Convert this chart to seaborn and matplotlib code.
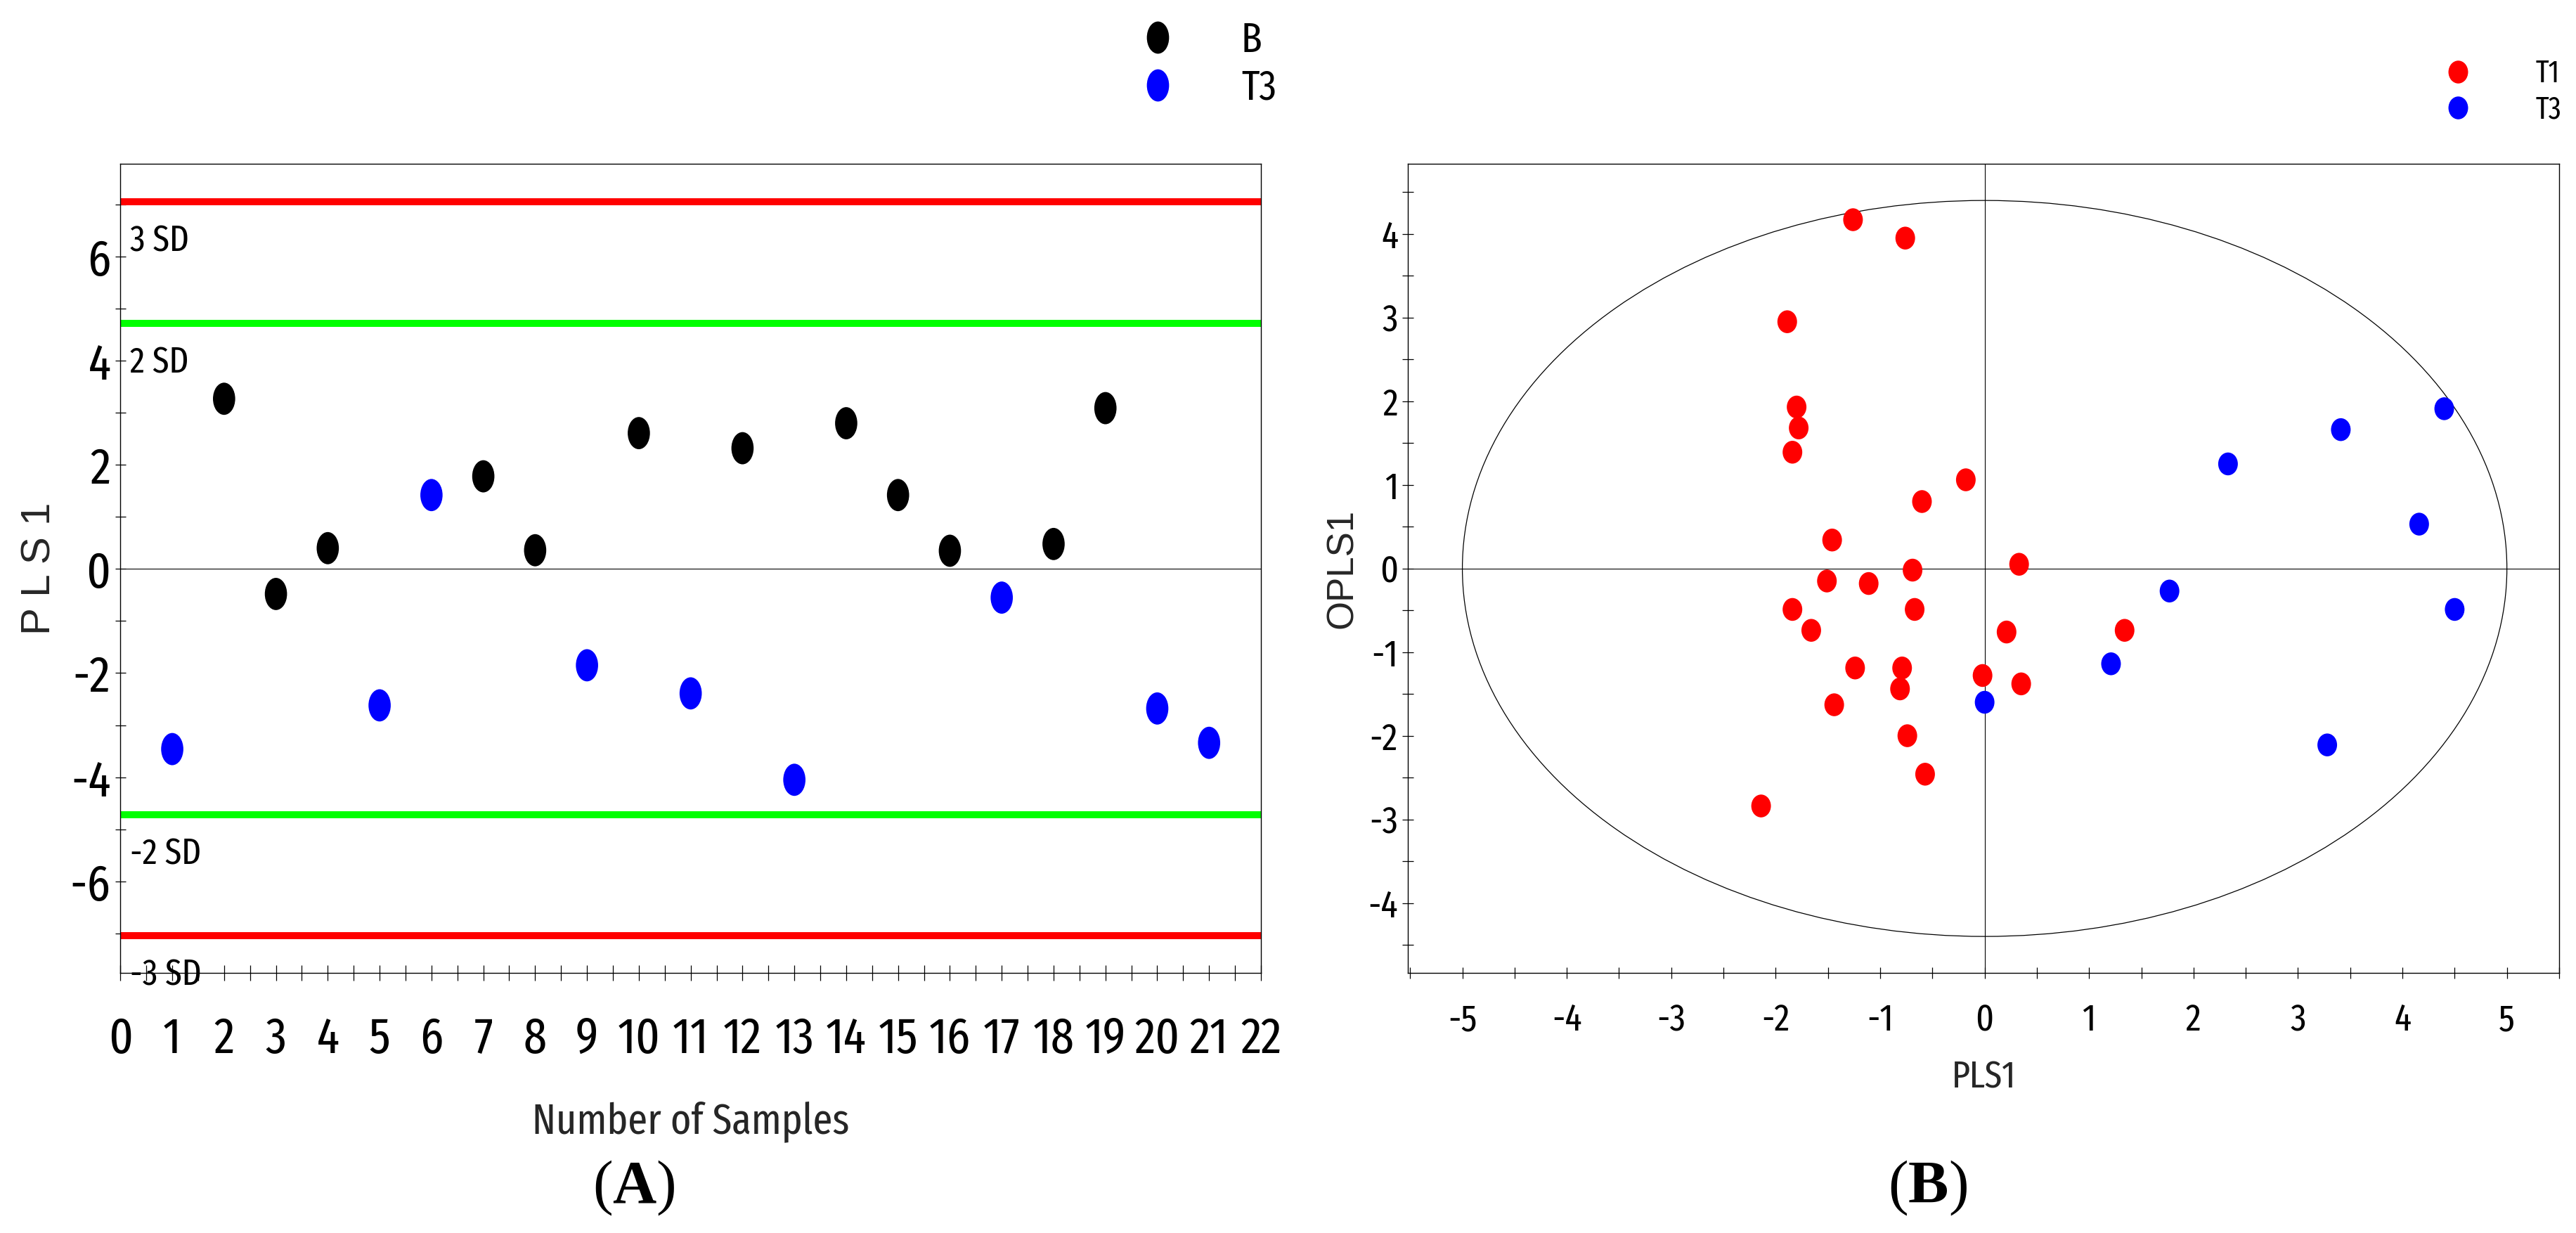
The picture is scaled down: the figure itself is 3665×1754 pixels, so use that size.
import matplotlib
matplotlib.use("Agg")
import numpy as np
import pandas as pd
import matplotlib.pyplot as plt
from matplotlib.path import Path
from matplotlib.markers import MarkerStyle
from matplotlib.transforms import Affine2D
from matplotlib.patches import Ellipse
from matplotlib.lines import Line2D
from matplotlib.ticker import MultipleLocator
import seaborn as sns

# ---------------- Panel A data (PLS score plot by sample number) ----------------
sample_no = list(range(1, 22))
pls1_scores = [-3.46, 3.27, -0.48, 0.40, -2.62, 1.42, 1.78, 0.36, -1.85, 2.61,
               -2.39, 2.32, -4.05, 2.80, 1.42, 0.35, -0.55, 0.48, 3.09, -2.68, -3.34]
sample_group = ["T3", "B", "B", "B", "T3", "T3", "B", "B", "T3", "B",
                "T3", "B", "T3", "B", "B", "B", "T3", "B", "B", "T3", "T3"]
sd_levels = [7.05, 4.72, -4.72, -7.05]
sd_labels = ["3 SD", "2 SD", "-2 SD", "-3 SD"]
groups_a = ["B", "T3"]

# ---------------- Panel B data (OPLS score plot) ----------------
t1_pls1 = [-1.26, -0.76, -1.89, -1.80, -1.78, -1.84, -0.18, -0.60, -1.46, 0.33,
           -0.69, -1.51, -1.11, -1.84, -0.67, -1.66, 0.21, 1.34, -1.24, -0.79,
           -0.02, 0.35, -0.81, -1.44, -0.74, -0.57, -2.14]
t1_opls1 = [4.17, 3.95, 2.95, 1.93, 1.68, 1.39, 1.06, 0.80, 0.34, 0.05,
            -0.02, -0.15, -0.18, -0.49, -0.49, -0.74, -0.76, -0.74, -1.19, -1.19,
            -1.28, -1.38, -1.44, -1.63, -2.00, -2.46, -2.84]
t3_pls1 = [4.40, 3.41, 2.33, 4.16, 1.77, 4.50, 1.21, 0.00, 3.28]
t3_opls1 = [1.91, 1.66, 1.25, 0.53, -0.27, -0.49, -1.14, -1.60, -2.11]
groups_b = ["T1", "T3"]
t2_radius_x = 5.0
t2_radius_y = 4.4

# ---------------- Style ----------------
NARROW = ["Fira Sans Extra Condensed", "Roboto Condensed", "Liberation Sans Narrow",
          "Liberation Sans", "DejaVu Sans"]
REGULAR = ["Liberation Sans", "DejaVu Sans"]
SERIF = ["Liberation Serif", "DejaVu Serif"]

sns.set_theme(style="white")
plt.rcParams.update({
    "font.family": NARROW,
    "axes.unicode_minus": False,
    "mathtext.fontset": "custom",
    "mathtext.rm": "Liberation Serif",
    "mathtext.bf": "Liberation Serif:bold",
    "axes.edgecolor": "black",
    "axes.linewidth": 1.0,
    "xtick.color": "black",
    "ytick.color": "black",
    "text.color": "black",
})

W, H = 3666, 1754
fig = plt.figure(figsize=(W / 100, H / 100), dpi=100)
fig.patch.set_facecolor("white")


def fx(px):
    return px / W


def fy(py):
    return 1 - py / H


ax_top, ax_bot = 233.3, 1384.0
axA = fig.add_axes([fx(171.3), fy(ax_bot), (1794 - 171.3) / W, (ax_bot - ax_top) / H])
axB = fig.add_axes([fx(2003.3), fy(ax_bot), (3641 - 2003.3) / W, (ax_bot - ax_top) / H])


def ellipse_marker(aspect):
    return MarkerStyle(Path.unit_circle().transformed(Affine2D().scale(aspect, 1.0)))


mkA = ellipse_marker(0.69)
mkB = ellipse_marker(0.86)

palA = {"B": "#000000", "T3": "#0000ff"}
palB = {"T1": "#ff0000", "T3": "#0000ff"}
sd_colors = ["#ff0000", "#00ff00", "#00ff00", "#ff0000"]

# ---------------- Panel A ----------------
dfA = pd.DataFrame({"Sample": sample_no, "PLS1": pls1_scores, "Group": sample_group})
axA.axhline(0, color="black", lw=0.8, zorder=1)
for lvl, lab, col in zip(sd_levels, sd_labels, sd_colors):
    axA.axhline(lvl, color=col, lw=7.2, zorder=2, solid_capstyle="butt")
    axA.text(0.18, lvl - 0.42, lab, ha="left", va="top", fontsize=37.5,
             family=NARROW, zorder=3)
sns.scatterplot(data=dfA, x="Sample", y="PLS1", hue="Group", hue_order=groups_a,
                palette=palA, marker=mkA, s=33 ** 2, linewidth=0, edgecolor="none",
                legend=False, ax=axA, zorder=4)
axA.set_xlim(0, 22)
axA.set_ylim(-7.76, 7.78)
axA.xaxis.set_major_locator(MultipleLocator(1))
axA.xaxis.set_minor_locator(MultipleLocator(0.5))
axA.yaxis.set_major_locator(MultipleLocator(2))
axA.yaxis.set_minor_locator(MultipleLocator(1))
axA.tick_params(axis="x", which="both", direction="inout", length=15.8, width=0.9,
                pad=35, labelsize=52, bottom=True)
axA.tick_params(axis="y", which="both", direction="inout", length=10.8, width=0.9,
                pad=4.7, labelsize=52, left=True)
axA.set_xlabel("Number of Samples", fontsize=44, family=NARROW)
axA.xaxis.set_label_coords(0.5, (ax_bot - 1566) / (ax_bot - ax_top))
axA.set_ylabel("P L S 1", fontsize=42, family=REGULAR)
axA.yaxis.set_label_coords((84 - 171.3) / (1794 - 171.3), 0.5)
for sp in axA.spines.values():
    sp.set_visible(True)
    sp.set_linewidth(1.0)
    sp.set_color("black")

# ---------------- Panel B ----------------
dfB = pd.DataFrame({
    "PLS1": t1_pls1 + t3_pls1,
    "OPLS1": t1_opls1 + t3_opls1,
    "Group": ["T1"] * len(t1_pls1) + ["T3"] * len(t3_pls1),
})
axB.axhline(0, color="black", lw=0.8, zorder=1)
axB.axvline(0, color="black", lw=0.8, zorder=1)
axB.add_patch(Ellipse((0, 0), 2 * t2_radius_x, 2 * t2_radius_y, fill=False,
                      edgecolor="black", lw=0.9, zorder=2))
sns.scatterplot(data=dfB, x="PLS1", y="OPLS1", hue="Group", hue_order=groups_b,
                palette=palB, marker=mkB, s=23.4 ** 2, linewidth=0, edgecolor="none",
                legend=False, ax=axB, zorder=4)
axB.set_xlim(-5.52, 5.50)
axB.set_ylim(-4.836, 4.836)
axB.xaxis.set_major_locator(MultipleLocator(1))
axB.xaxis.set_minor_locator(MultipleLocator(0.5))
axB.yaxis.set_major_locator(MultipleLocator(1))
axB.yaxis.set_minor_locator(MultipleLocator(0.5))
axB.tick_params(axis="x", which="both", direction="inout", length=12.2, width=0.9,
                pad=24, labelsize=39, bottom=True)
axB.tick_params(axis="y", which="both", direction="inout", length=11.2, width=0.9,
                pad=4.7, labelsize=39, left=True)
axB.set_xlabel("PLS1", fontsize=39, family=NARROW)
axB.xaxis.set_label_coords(0.5, (ax_bot - 1507) / (ax_bot - ax_top))
axB.set_ylabel("OPLS1", fontsize=38, family=REGULAR)
axB.yaxis.set_label_coords((1935 - 2003.3) / (3641 - 2003.3), 0.5)
for sp in axB.spines.values():
    sp.set_visible(True)
    sp.set_linewidth(1.0)
    sp.set_color("black")

# ---------------- Legends ----------------
hA = [Line2D([], [], linestyle="none", marker=mkA, markersize=33,
             markerfacecolor=palA[g], markeredgewidth=0) for g in groups_a]
fig.legend(hA, groups_a, loc="upper left", bbox_to_anchor=(fx(1617.3), fy(29.2)),
           bbox_transform=fig.transFigure, frameon=False,
           prop={"family": NARROW, "size": 42.8}, handlelength=1.0,
           handletextpad=1.5, labelspacing=0.18, borderpad=0, borderaxespad=0)

hB = [Line2D([], [], linestyle="none", marker=mkB, markersize=23.4,
             markerfacecolor=palB[g], markeredgewidth=0) for g in groups_b]
fig.legend(hB, groups_b, loc="upper left", bbox_to_anchor=(fx(3475.3), fy(83.6)),
           bbox_transform=fig.transFigure, frameon=False,
           prop={"family": NARROW, "size": 31.3}, handlelength=1.0,
           handletextpad=2.05, labelspacing=0.2, borderpad=0, borderaxespad=0)

# ---------------- Panel letters ----------------
fig.text(fx(902), fy(1690), r"($\mathbf{A}$)", ha="center", va="center",
         fontsize=62, family=SERIF)
fig.text(fx(2743), fy(1690), r"($\mathbf{B}$)", ha="center", va="center",
         fontsize=62, family=SERIF)

fig.savefig("out.png", dpi=100, facecolor="white")
